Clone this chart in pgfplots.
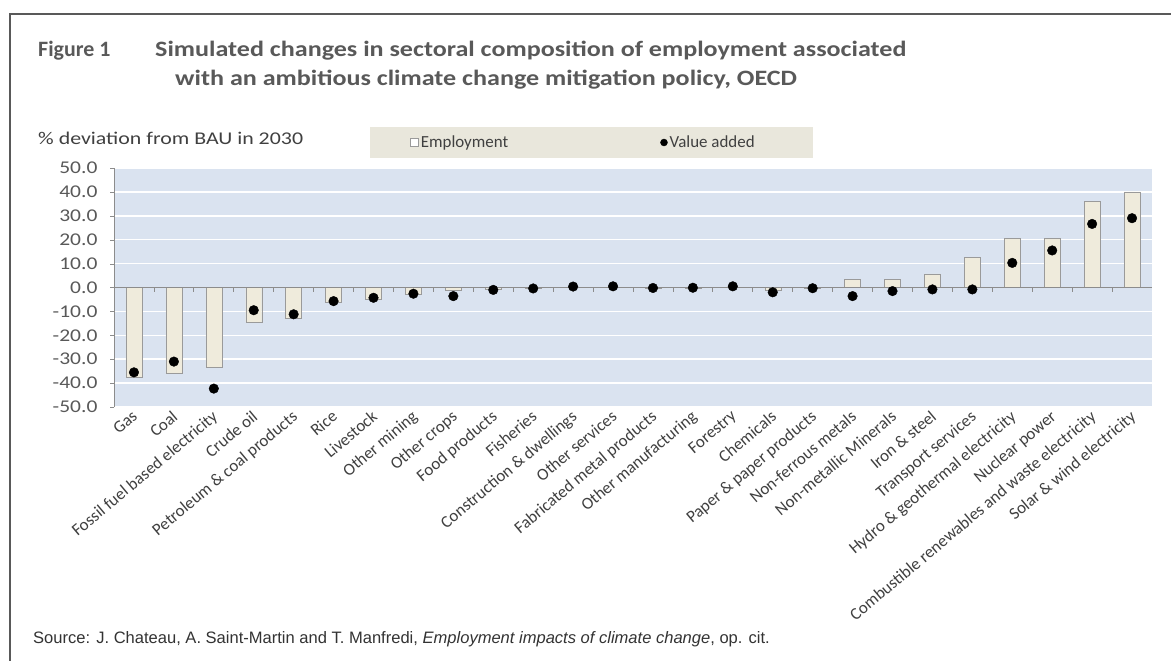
\documentclass[border=0pt]{standalone}
\usepackage{fontspec}
\setmainfont{Carlito}
\newfontfamily\arial{Liberation Sans}
\usepackage{graphicx}
\usepackage{pgfplots}
\usepackage{pgfplotstable}
\pgfplotsset{compat=1.18}
\definecolor{plotbg}{HTML}{DAE3F0}
\definecolor{barfill}{HTML}{EFEBDC}
\definecolor{barline}{HTML}{9A9A9A}
\definecolor{legbg}{HTML}{E9E7DC}
\definecolor{txt}{HTML}{404040}
\definecolor{ttl}{HTML}{595959}
\definecolor{axgray}{HTML}{8C8C8C}
\pgfplotstableread{
idx emp va
0 -37.5 -35.5
1 -36.0 -31.0
2 -33.5 -42.3
3 -14.5 -9.5
4 -13.0 -11.2
5 -6.0 -5.7
6 -5.0 -4.3
7 -3.0 -2.6
8 -1.0 -3.6
9 -0.5 -1.0
10 -0.3 -0.4
11 0.2 0.4
12 0.3 0.5
13 -0.3 -0.2
14 -0.2 -0.1
15 0.3 0.5
16 -1.0 -2.0
17 -0.3 -0.3
18 3.5 -3.6
19 3.3 -1.5
20 5.7 -0.8
21 12.7 -0.8
22 20.5 10.3
23 20.5 15.5
24 36.0 26.6
25 40.0 29.0
}\datatable
\newcommand{\wide}[2][1.19]{\scalebox{#1}[1]{#2}}
\newcommand{\yl}[1]{\scalebox{1.2}[1]{#1}}
\begin{document}
\begin{tikzpicture}
\useasboundingbox[fill=white] (0,0) rectangle (1171bp,-661bp);
% frame
\draw[line width=2bp, color=ttl] (10bp,-661bp) -- (10bp,-14bp) -- (1171bp,-14bp);
% title
\node[anchor=base west, inner sep=0, font=\fontsize{22}{26}\selectfont\bfseries, text=ttl] at (38bp,-56bp) {Figure 1};
\node[anchor=base west, inner sep=0, font=\fontsize{22}{26}\selectfont\bfseries, text=ttl] at (155bp,-56bp) {\wide{Simulated changes in sectoral composition of employment associated}};
\node[anchor=base west, inner sep=0, font=\fontsize{22}{26}\selectfont\bfseries, text=ttl] at (175bp,-85bp) {\wide{with an ambitious climate change mitigation policy, OECD}};
% y label
\node[anchor=base west, inner sep=0, font=\fontsize{18}{20}\selectfont, text=txt] at (38bp,-144bp) {\wide[1.22]{\% deviation from BAU in 2030}};
% legend box
\fill[legbg] (370bp,-127bp) rectangle (813bp,-158bp);
\begin{axis}[
  at={(114bp,-407bp)}, anchor=south west,
  width=1038bp, height=239bp, scale only axis,
  xmin=-0.5, xmax=25.5, ymin=-50, ymax=50,
  axis background/.style={fill=plotbg},
  axis y line*=left, axis x line*=bottom,
  x axis line style={draw=none},
  y axis line style={draw=axgray},
  ytick={-50,-40,...,50},
  yticklabels={\yl{-50.0},\yl{-40.0},\yl{-30.0},\yl{-20.0},\yl{-10.0},\yl{0.0},\yl{10.0},\yl{20.0},\yl{30.0},\yl{40.0},\yl{50.0}},
  ymajorgrids, grid style={white, line width=1.5bp},
  tick align=outside,
  ytick style={draw=axgray},
  major tick length=4bp,
  xtick={0,...,25},
  xtick style={draw=none},
  yticklabel style={font=\fontsize{18}{18}\selectfont, text=ttl, xshift=-9bp},
  xticklabels={Gas,Coal,Fossil fuel based electricity,Crude oil,Petroleum \& coal products,Rice,Livestock,Other mining,Other crops,Food products,Fisheries,Construction \& dwellings,Other services,Fabricated metal products,Other manufacturing,Forestry,Chemicals,Paper \& paper products,Non-ferrous metals,Non-metallic Minerals,Iron \& steel,Transport services,Hydro \& geothermal electricity,Nuclear power,Combustible renewables and waste electricity,Solar \& wind electricity},
  xticklabel style={rotate=40, anchor=north east, font=\fontsize{17}{17}\selectfont, text=txt, inner sep=1bp, yshift=4bp},
  legend columns=2,
  legend style={at={(0.4523,1.1067)}, anchor=center, draw=none, fill=none, font=\fontsize{17}{19}\selectfont, text=txt, /tikz/every even column/.append style={column sep=150bp}},
  clip=false,
]
\addplot[ybar, bar width=16bp, fill=barfill, draw=barline, legend image code/.code={\draw[barline, fill=white, line width=0.6bp] (0bp,-4bp) rectangle (8bp,4bp);}] table[x=idx, y=emp] {\datatable};
\addlegendentry{Employment}
\draw[axgray, line width=1bp] (axis cs:-0.5,0) -- (axis cs:25.5,0);
\pgfplotsinvokeforeach{0.5,1.5,...,24.5}{\draw[axgray, line width=0.8bp] (axis cs:#1,0) -- ([yshift=-4bp]axis cs:#1,0);}
\addplot[only marks, mark=*, mark size=4.8bp, black, legend image code/.code={\fill[black] (4bp,0) circle (3.5bp);}] table[x=idx, y=va] {\datatable};
\addlegendentry{Value added}
\end{axis}
% source
\node[anchor=base west, inner sep=0, font=\arial\fontsize{16.6}{18}\selectfont, text=black!80] at (33bp,-643bp) {Source: J. Chateau, A. Saint-Martin and T. Manfredi, \textit{Employment impacts of climate change}, op. cit.};
\end{tikzpicture}
\end{document}
